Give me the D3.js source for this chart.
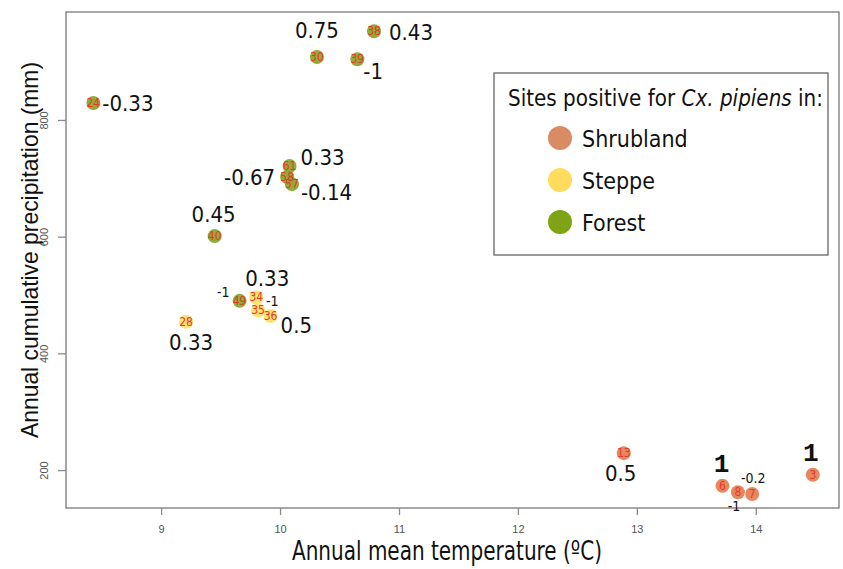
<!DOCTYPE html>
<html>
<head>
<meta charset="utf-8">
<script src="https://cdn.jsdelivr.net/npm/d3@7"></script>
<style>
  body { margin: 0; background: #fff; }
  svg { display: block; font-family: "Liberation Sans Narrow", "DejaVu Sans Condensed", "Liberation Sans", sans-serif; }
</style>
</head>
<body>
<div id="app"></div>
<script>
const width = 843
const height = 569

// site data
const sites = [24, 30, 38, 39, 61, 58, 57, 40, 49, 34, 35, 36, 28, 13, 6, 8, 7, 3]
const habitat = ["Forest", "Forest", "Forest", "Forest", "Forest", "Forest", "Forest", "Forest", "Forest",
                 "Steppe", "Steppe", "Steppe", "Steppe",
                 "Shrubland", "Shrubland", "Shrubland", "Shrubland", "Shrubland"]
const temperature = [8.43, 10.31, 10.79, 10.65, 10.08, 10.06, 10.10, 9.45, 9.66, 9.80, 9.815, 9.92, 9.21, 12.89, 13.72, 13.85, 13.97, 14.48]
const precipitation = [829, 908, 952, 904, 721, 702, 690, 601, 490, 496, 474, 464, 454, 229, 173, 162, 159, 192]
const scores = ["-0.33", "0.75", "0.43", "-1", "0.33", "-0.67", "-0.14", "0.45", "-1", "0.33", "-1", "0.5", "0.33", "0.5", "1", "-1", "-0.2", "1"]

const xTicks = [9, 10, 11, 12, 13, 14]
const yTicks = [200, 400, 600, 800]
const legendItems = ["Shrubland", "Steppe", "Forest"]

const pointColor = { Shrubland: "#E58157", Steppe: "#FFE16A", Forest: "#8AA82C" }
const legendColor = { Shrubland: "#D98B63", Steppe: "#FFDC5E", Forest: "#7EA314" }

// where each score label sits relative to its point: [anchor, dx, dy, kind]
const labelPlace = {
  24: ["start", 9, 0, "big"], 30: ["middle", 0, -26, "big"], 38: ["start", 15, 1, "big"],
  39: ["start", 6, 12, "big"], 61: ["start", 11, -9, "big"], 58: ["end", -12, 0, "big"],
  57: ["start", 9, 8, "big"], 40: ["middle", -1, -22, "big"], 49: ["end", -10, -9, "small"],
  34: ["middle", 11, -19, "big"], 35: ["start", 8, -9, "small"], 36: ["start", 10, 9, "big"],
  28: ["middle", 5, 21, "big"], 13: ["middle", -3, 20, "big"], 6: ["middle", -1, -21, "one"],
  8: ["middle", -4, 14, "small"], 7: ["middle", 1, -16, "small"], 3: ["middle", -2, -21, "one"]
}

const data = sites.map((s, i) => ({
  site: s, habitat: habitat[i], t: temperature[i], p: precipitation[i], score: scores[i]
}))

const svg = d3.select('#app').append('svg')
    .attr('width', width)
    .attr('height', height)

const x = d3.scaleLinear().domain([8.2, 14.7]).range([66, 839])
const y = d3.scaleLinear().domain([135, 985]).range([508, 12])

// frame
svg.append('rect')
    .attr('x', x.range()[0]).attr('y', y.range()[1])
    .attr('width', x.range()[1] - x.range()[0])
    .attr('height', y.range()[0] - y.range()[1])
    .attr('fill', 'none')
    .attr('stroke', '#8a8a8a')
    .attr('stroke-width', 1.5)

const xAxis = svg.append('g')
    .attr('transform', `translate(0,${y.range()[0]})`)
    .call(d3.axisBottom(x).tickValues(xTicks).tickSize(7).tickPadding(10).tickFormat(d3.format('d')))
xAxis.select('.domain').remove()

const yAxis = svg.append('g')
    .attr('transform', `translate(${x.range()[0]},0)`)
    .call(d3.axisLeft(y).tickValues(yTicks).tickSize(8).tickFormat(d3.format('d')))
yAxis.select('.domain').remove()
yAxis.selectAll('.tick text')
    .attr('x', 0).attr('dy', null)
    .attr('transform', 'translate(-22,0) rotate(-90)')
    .attr('text-anchor', 'middle')
    .attr('dominant-baseline', 'central')

svg.selectAll('.tick line').attr('stroke', '#8a8a8a').attr('stroke-width', 1.3)
svg.selectAll('.tick text')
    .attr('fill', '#555')
    .style('font-family', '"Liberation Sans", Arial, sans-serif')
    .style('font-size', '11px')

// axis titles
svg.append('text')
    .attr('x', 447).attr('y', 560)
    .attr('text-anchor', 'middle')
    .attr('textLength', 310).attr('lengthAdjust', 'spacingAndGlyphs')
    .style('font-size', '26px')
    .attr('fill', '#111')
    .text('Annual mean temperature (ºC)')

svg.append('text')
    .attr('transform', 'translate(38,250) rotate(-90)')
    .attr('text-anchor', 'middle')
    .attr('textLength', 376).attr('lengthAdjust', 'spacingAndGlyphs')
    .style('font-family', '"Liberation Sans", Arial, sans-serif')
    .style('font-size', '24px')
    .attr('fill', '#111')
    .text('Annual cumulative precipitation (mm)')

// points
const pts = svg.append('g')
pts.selectAll('circle')
    .data(data)
    .join('circle')
    .attr('cx', d => x(d.t))
    .attr('cy', d => y(d.p))
    .attr('r', 7)
    .attr('fill', d => pointColor[d.habitat])
    .attr('fill-opacity', 0.95)

pts.selectAll('text.site')
    .data(data)
    .join('text')
    .attr('class', 'site')
    .attr('x', d => x(d.t))
    .attr('y', d => y(d.p))
    .attr('text-anchor', 'middle')
    .attr('dominant-baseline', 'central')
    .attr('fill', '#E5392A')
    .style('font-family', '"DejaVu Sans Condensed", "Liberation Sans", sans-serif')
    .style('font-size', '12px')
    .text(d => d.site)

const fontFor = {
  big: { size: '22px', family: '"Liberation Sans Narrow", "DejaVu Sans Condensed", sans-serif', weight: 'normal' },
  small: { size: '14px', family: '"Liberation Sans Narrow", "DejaVu Sans Condensed", sans-serif', weight: 'normal' },
  one: { size: '26px', family: '"Liberation Mono", "DejaVu Sans Mono", monospace', weight: 'bold' }
}

svg.append('g').selectAll('text')
    .data(data)
    .join('text')
    .attr('x', d => x(d.t) + labelPlace[d.site][1])
    .attr('y', d => y(d.p) + labelPlace[d.site][2])
    .attr('text-anchor', d => labelPlace[d.site][0])
    .attr('dominant-baseline', 'central')
    .attr('fill', '#111')
    .style('font-size', d => fontFor[labelPlace[d.site][3]].size)
    .style('font-family', d => fontFor[labelPlace[d.site][3]].family)
    .style('font-weight', d => fontFor[labelPlace[d.site][3]].weight)
    .text(d => d.score)

// legend
const legend = svg.append('g')
legend.append('rect')
    .attr('x', 494).attr('y', 73)
    .attr('width', 334).attr('height', 182)
    .attr('fill', '#fff')
    .attr('stroke', '#666')
    .attr('stroke-width', 1.3)

const title = legend.append('text')
    .attr('x', 508).attr('y', 106)
    .attr('textLength', 315).attr('lengthAdjust', 'spacingAndGlyphs')
    .style('font-family', '"DejaVu Sans Condensed", "Liberation Sans", sans-serif')
    .style('font-size', '23px')
    .attr('fill', '#111')
title.append('tspan').text('Sites positive for ')
title.append('tspan').style('font-style', 'italic').text('Cx. pipiens')
title.append('tspan').text(' in:')

const items = legend.selectAll('g.item')
    .data(legendItems)
    .join('g')
    .attr('class', 'item')
    .attr('transform', (d, i) => `translate(560,${138 + i * 42})`)
items.append('circle')
    .attr('r', 12)
    .attr('fill', d => legendColor[d])
items.append('text')
    .attr('x', 22).attr('y', 9)
    .style('font-family', '"DejaVu Sans Condensed", "Liberation Sans", sans-serif')
    .style('font-size', '23px')
    .attr('fill', '#111')
    .text(d => d)
</script>
</body>
</html>
